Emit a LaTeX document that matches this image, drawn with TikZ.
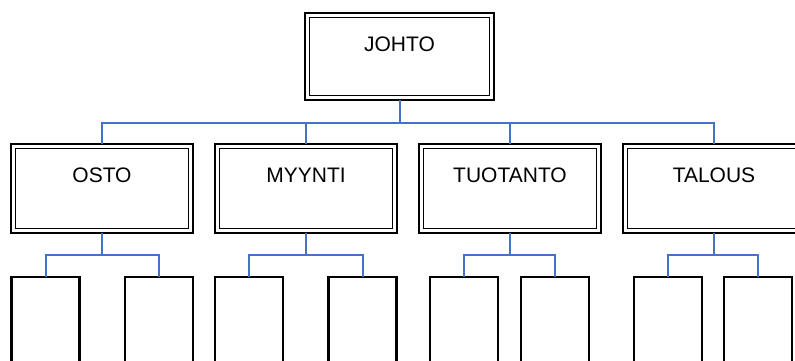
\documentclass[tikz,border=0pt]{standalone}
\usepackage{fontspec}
\setmainfont{Liberation Sans}
\definecolor{connblue}{HTML}{4472C4}
\tikzset{
  dbox/.style={draw=black, line width=2.3pt, rectangle, outer sep=0pt, inner sep=0pt,
    minimum width=182pt, minimum height=89pt},
  innerline/.style={draw=black, line width=1.6pt},
  leaf/.style={draw=black, line width=2.2pt, rectangle, outer sep=0pt, inner sep=0pt,
    minimum width=68pt, minimum height=130pt, anchor=north},
  conn/.style={draw=connblue, line width=2pt},
  lbl/.style={font=\fontsize{21}{25}\selectfont, anchor=center, yshift=-31.5pt}
}
\begin{document}
\begin{tikzpicture}[x=1pt,y=-1pt]
\useasboundingbox (0,0) rectangle (795,361);
\clip (0,0) rectangle (795,361);
% top
\node[dbox, minimum width=189pt, minimum height=87pt, anchor=north,
  label={[lbl]north:JOHTO}] (johto) at (399.5,13) {};
% level 2
\node[dbox, anchor=north, label={[lbl]north:OSTO}] (osto) at (102,144) {};
\node[dbox, anchor=north, label={[lbl]north:MYYNTI}] (myynti) at (306,144) {};
\node[dbox, anchor=north, label={[lbl]north:TUOTANTO}] (tuotanto) at (510,144) {};
\node[dbox, anchor=north, label={[lbl]north:TALOUS}] (talous) at (714,144) {};
% inner borders of the double boxes
\foreach \b in {johto,osto,myynti,tuotanto,talous}{
  \draw[innerline] ([xshift=4.5pt,yshift=-4.5pt]\b.north west) rectangle
                   ([xshift=-4.5pt,yshift=4.5pt]\b.south east);
}
% leaves
\node[leaf] (osto-a) at (45.5,277) {};
\node[leaf] (osto-b) at (159,277) {};
\node[leaf] (myynti-a) at (249,277) {};
\node[leaf] (myynti-b) at (362.5,277) {};
\node[leaf] (tuotanto-a) at (464,277) {};
\node[leaf] (tuotanto-b) at (555,277) {};
\node[leaf] (talous-a) at (668,277) {};
\node[leaf] (talous-b) at (758,277) {};
% connectors
\foreach \t in {osto,myynti,tuotanto,talous}{
  \draw[conn] (johto.south) -- ++(0,23) -| (\t.north);
  \draw[conn] (\t.south) -- ++(0,21.5) -| (\t-a.north);
  \draw[conn] (\t.south) -- ++(0,21.5) -| (\t-b.north);
}
\end{tikzpicture}
\end{document}
